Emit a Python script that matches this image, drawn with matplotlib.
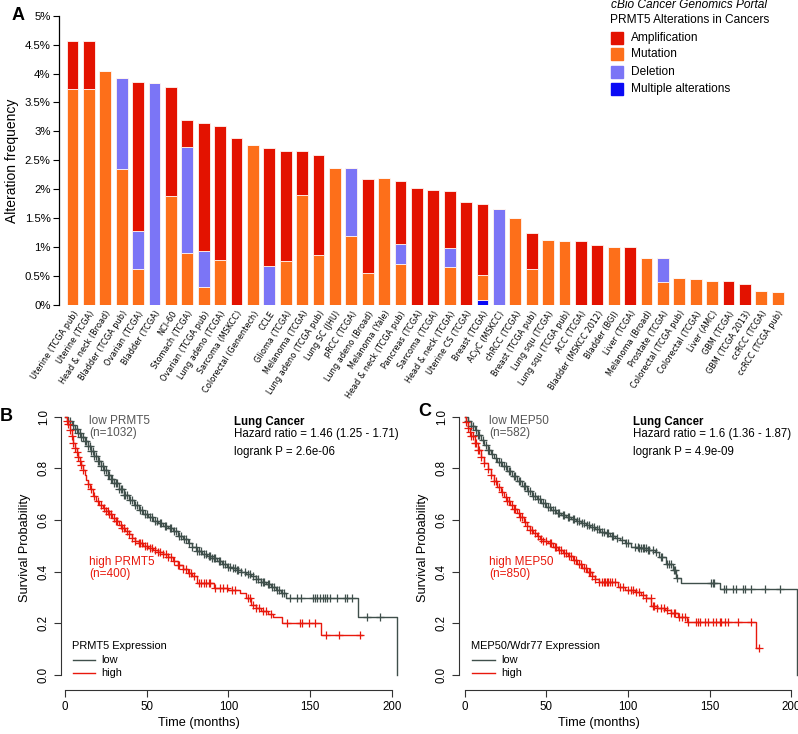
import numpy as np
import matplotlib
matplotlib.use("Agg")
import matplotlib.pyplot as plt
from matplotlib.patches import Rectangle

plt.rcParams['font.family'] = ['Liberation Sans', 'DejaVu Sans']

W, H = 798, 734

# ---------------- panel A data ----------------
cats = ["Uterine (TCGA pub)", "Uterine (TCGA)", "Head & neck (Broad)", "Bladder (TCGA pub)",
        "Ovarian (TCGA)", "Bladder (TCGA)", "NCI-60", "Stomach (TCGA)", "Ovarian (TCGA pub)",
        "Lung adeno (TCGA)", "Sarcoma (MSKCC)", "Colorectal (Genentech)", "CCLE", "Glioma (TCGA)",
        "Melanoma (TCGA)", "Lung adeno (TCGA pub)", "Lung SC (JHU)", "pRCC (TCGA)",
        "Lung adeno (Broad)", "Melanoma (Yale)", "Head & neck (TCGA pub)", "Pancreas (TCGA)",
        "Sarcoma (TCGA)", "Head & neck (TCGA)", "Uterine CS (TCGA)", "Breast (TCGA)",
        "ACyC (MSKCC)", "chRCC (TCGA)", "Breast (TCGA pub)", "Lung squ (TCGA)",
        "Lung squ (TCGA pub)", "ACC (TCGA)", "Bladder (MSKCC 2012)", "Bladder (BGI)",
        "Liver (TCGA)", "Melanoma (Broad)", "Prostate (TCGA)", "Colorectal (TCGA pub)",
        "Colorectal (TCGA)", "Liver (AMC)", "GBM (TCGA)", "GBM (TCGA 2013)", "ccRCC (TCGA)",
        "ccRCC (TCGA pub)"]
amp = [0.83, 0.83, 0, 0, 2.58, 0, 1.88, 0.47, 2.21, 2.32, 2.89, 0, 2.03, 1.90, 0.76, 1.74,
       0, 0, 1.63, 0, 1.08, 2.02, 1.98, 0.98, 1.78, 1.24, 0, 0, 0.62, 0, 0, 1.11, 1.03, 0,
       1.00, 0, 0, 0, 0, 0, 0.41, 0.36, 0, 0]
mut = [3.74, 3.74, 4.04, 2.35, 0.63, 0, 1.88, 0.90, 0.31, 0.77, 0, 2.76, 0, 0.76, 1.90, 0.86,
       2.37, 1.19, 0.55, 2.19, 0.71, 0, 0, 0.66, 0, 0.42, 0, 1.50, 0.62, 1.12, 1.11, 0, 0,
       1.00, 0, 0.82, 0.40, 0.46, 0.45, 0.41, 0, 0, 0.24, 0.23]
dele = [0, 0, 0, 1.57, 0.65, 3.83, 0, 1.83, 0.63, 0, 0, 0, 0.68, 0, 0, 0, 0, 1.18, 0, 0,
        0.35, 0, 0, 0.33, 0, 0, 1.66, 0, 0, 0, 0, 0, 0, 0, 0, 0, 0.42, 0, 0, 0, 0, 0, 0, 0]
multi = [0] * 25 + [0.09] + [0] * 18

col_amp, col_mut, col_del, col_multi = '#e31200', '#fd6f1a', '#7b75f6', '#0a0af5'

# ---------------- panel B / C data (Kaplan-Meier) ----------------
b_low_t = [0, 2, 4, 6, 8, 10, 12, 14, 16, 18, 20, 22, 24, 26, 28, 30, 33, 36, 39, 42, 45, 48,
           51, 54, 57, 60, 63, 66, 69, 72, 75, 78, 81, 84, 87, 90, 93, 96, 99, 102, 105, 108,
           111, 114, 117, 120, 123, 126, 129, 132, 135.5, 179.4, 203.5]
b_low_s = [1.0, 0.985, 0.968, 0.952, 0.937, 0.922, 0.905, 0.886, 0.866, 0.848, 0.828, 0.81,
           0.793, 0.776, 0.76, 0.744, 0.72, 0.698, 0.678, 0.658, 0.64, 0.624, 0.61, 0.598,
           0.588, 0.578, 0.568, 0.556, 0.54, 0.525, 0.51, 0.494, 0.48, 0.47, 0.462, 0.452,
           0.44, 0.43, 0.42, 0.413, 0.406, 0.4, 0.392, 0.382, 0.372, 0.362, 0.352, 0.342,
           0.33, 0.316, 0.297, 0.223, 0.0]
b_low_c = [3, 5, 6, 7, 8, 9, 10, 11, 12, 13, 14, 15, 16, 17, 18, 19, 20, 21, 22, 23, 24, 25,
           26, 27, 28, 29, 30, 31, 32, 33, 34, 35, 36, 37, 38, 40, 41, 43, 44, 46, 47, 49, 50,
           52, 53, 55, 56, 58, 59, 61, 62, 64, 65, 67, 68, 70, 71, 73, 74, 76, 78, 80, 81, 82,
           83, 85, 86, 88, 89, 90, 91, 92, 94, 95, 97, 98, 100, 101, 103, 104, 105, 106, 108,
           110, 112, 113, 115, 117, 118, 120, 121, 122, 124, 125, 127, 128, 130, 131, 133, 134,
           137.8, 142.2, 144.5, 152, 153, 154, 156, 158.2, 159.2, 160.6, 162.2, 166.3, 171.4,
           172.5, 175.5, 184.7, 192.9]
b_high_t = [0, 1, 2, 3, 4, 5, 6, 7, 8, 9, 10, 11, 12, 13, 14, 15, 17, 19, 21, 23, 25, 27, 29,
            31, 33, 35, 37, 39, 41, 43, 45, 48, 51, 54, 57, 60, 63, 66, 69, 72, 75, 78, 80.6,
            91, 100, 107, 111, 114, 117, 120, 124, 127.4, 132.6, 156.7, 182]
b_high_s = [1.0, 0.985, 0.972, 0.95, 0.925, 0.9, 0.88, 0.862, 0.845, 0.83, 0.812, 0.795,
            0.775, 0.755, 0.738, 0.72, 0.695, 0.675, 0.66, 0.645, 0.635, 0.622, 0.608, 0.595,
            0.582, 0.57, 0.558, 0.545, 0.532, 0.52, 0.51, 0.5, 0.492, 0.485, 0.475, 0.468,
            0.455, 0.44, 0.425, 0.41, 0.395, 0.385, 0.356, 0.335, 0.33, 0.317, 0.298, 0.272,
            0.26, 0.248, 0.238, 0.226, 0.2, 0.155, 0.155]
b_high_c = [1, 2, 3, 4, 5, 6, 7, 8, 9, 10, 11, 14, 16, 18, 20, 22, 24, 25, 26, 27, 28, 30, 31,
            32, 34, 35, 36, 38, 39, 41, 43, 45, 46, 47, 49, 50, 52, 53, 55, 57, 58, 60, 62, 63,
            65, 67, 69, 70, 72, 74, 76, 77, 79, 82, 83, 85, 86, 88, 89, 92, 95, 97, 99, 102,
            104, 112, 113, 115, 117, 119, 121, 123, 126, 135.7, 143.9, 144.9, 149.6, 153,
            159.8, 167.8, 180.6]

c_low_t = [0, 2, 4, 6, 8, 10, 12, 14, 16, 18, 20, 23, 26, 29, 32, 35, 38, 41, 44, 47, 50, 53,
           56, 59, 62, 65, 68, 71, 74, 77, 80, 83, 86, 89, 92, 95, 98, 102, 107, 112, 116.3,
           119, 123, 127.5, 129.6, 132.6, 156.1, 203.5]
c_low_s = [1.0, 0.985, 0.965, 0.948, 0.93, 0.91, 0.89, 0.872, 0.855, 0.84, 0.826, 0.808, 0.79,
           0.772, 0.752, 0.732, 0.712, 0.695, 0.68, 0.665, 0.65, 0.638, 0.628, 0.62, 0.612,
           0.605, 0.598, 0.59, 0.582, 0.575, 0.565, 0.555, 0.548, 0.54, 0.532, 0.522, 0.51,
           0.497, 0.49, 0.485, 0.477, 0.455, 0.43, 0.407, 0.374, 0.357, 0.332, 0.0]
c_low_c = [2, 4, 5, 7, 8, 9, 11, 13, 14, 15, 17, 19, 21, 22, 24, 25, 27, 28, 30, 31, 33, 34,
           36, 37, 39, 40, 42, 43, 45, 46, 48, 49, 51, 52, 54, 55, 57, 58, 60, 61, 63, 64, 66,
           67, 69, 70, 72, 73, 75, 76, 78, 79, 81, 82, 84, 85, 87, 88, 90, 91, 93, 96, 99, 100,
           104, 106, 107, 108, 109, 110, 111, 112, 113, 115, 117, 120, 121, 124, 125, 126, 128,
           129, 130, 150.8, 151.8, 152.8, 158.8, 160.2, 164.3, 166.3, 170.4, 171.4, 175.5,
           183.7, 192.9]
c_high_t = [0, 1, 2, 3, 4, 6, 8, 10, 12, 14, 16, 18, 20, 22, 24, 26, 28, 30, 32, 34, 36, 38,
            40, 42, 44, 46, 48, 51, 54, 57, 60, 63, 66, 69, 72, 75, 78, 80, 82, 94, 98, 104,
            108, 111, 114.3, 118, 122.5, 126, 130.6, 135.8, 178.6, 180]
c_high_s = [1.0, 0.98, 0.955, 0.94, 0.925, 0.9, 0.872, 0.845, 0.82, 0.796, 0.774, 0.752,
            0.729, 0.71, 0.691, 0.675, 0.658, 0.642, 0.626, 0.61, 0.594, 0.578, 0.562, 0.548,
            0.537, 0.528, 0.52, 0.51, 0.497, 0.485, 0.472, 0.46, 0.445, 0.43, 0.415, 0.4,
            0.385, 0.372, 0.36, 0.342, 0.33, 0.323, 0.31, 0.297, 0.267, 0.258, 0.252, 0.24,
            0.226, 0.206, 0.103, 0.103]
c_high_c = [1, 2, 3, 4, 5, 6, 7, 8, 9, 10, 12, 14, 16, 18, 19, 21, 23, 25, 26, 27, 29, 30, 31,
            33, 34, 35, 37, 38, 40, 41, 43, 45, 47, 48, 50, 52, 53, 55, 56, 58, 59, 61, 62, 64,
            65, 67, 68, 70, 71, 73, 74, 76, 77, 78, 80, 82, 84, 85, 86, 87, 88, 89, 90, 92, 95,
            97, 100, 102, 103, 105, 107, 109, 111, 114, 115, 116, 118, 120, 122, 124, 126, 128,
            129, 131, 133, 135, 136.7, 141.8, 142.8, 143.9, 146.9, 148.9, 152, 154, 156.1,
            157.1, 159.2, 161.2, 167.3, 175.5, 180]

col_low, col_high = '#3f4f4b', '#e8180c'


def px_axes(fig, l, t, r, b):
    return fig.add_axes([l / W, 1 - b / H, (r - l) / W, (b - t) / H])


fig = plt.figure(figsize=(W / 100, H / 100), dpi=100)

# ---------------- panel A ----------------
ax = px_axes(fig, 59, 15.7, 785.8, 305)
x = np.arange(len(cats))
bottom = np.zeros(len(cats))
for vals, col in [(multi, col_multi), (mut, col_mut), (dele, col_del), (amp, col_amp)]:
    v = np.array(vals)
    ax.bar(x, v, bottom=bottom, width=0.72, color=col, edgecolor='#fff4f0', linewidth=0.6)
    bottom += v
ax.set_xlim(-0.82, 43.5)
ax.set_ylim(0, 5)
ax.set_yticks(np.arange(0, 5.01, 0.5))
ax.set_yticklabels(['0%', '0.5%', '1%', '1.5%', '2%', '2.5%', '3%', '3.5%', '4%', '4.5%', '5%'],
                   fontsize=8.2)
ax.set_xticks(x)
ax.set_xticklabels(cats, rotation=57, ha='right', rotation_mode='anchor', fontsize=5.9,
                   family='DejaVu Sans')
ax.tick_params(axis='x', length=0, pad=3)
ax.tick_params(axis='y', length=4, width=0.8, pad=2)
for s in ['top', 'right', 'bottom']:
    ax.spines[s].set_visible(False)
ax.spines['left'].set_linewidth(0.9)
ax.set_ylabel('Alteration frequency', fontsize=10, labelpad=4)

fig.text(12 / W, 1 - 15 / H, 'A', fontsize=13, fontweight='bold', va='center')

# legend of panel A
fig.text(611 / W, 1 - 5 / H, 'cBio Cancer Genomics Portal', fontsize=8.6, style='italic', va='center')
fig.text(610.5 / W, 1 - 20 / H, 'PRMT5 Alterations in Cancers', fontsize=8.6, va='center')
for yy, col, lab in [(37.7, col_amp, 'Amplification'), (54.3, col_mut, 'Mutation'),
                     (71.7, col_del, 'Deletion'), (89, col_multi, 'Multiple alterations')]:
    fig.patches.append(Rectangle(((611) / W, 1 - (yy + 6) / H), 12 / W, 12 / H,
                                 transform=fig.transFigure, color=col))
    fig.text(631 / W, 1 - yy / H, lab, fontsize=8.6, va='center')


# ---------------- panels B / C ----------------
def km_panel(l, x0, xl, gene, exprlab, n_low, n_high, hr, pval, lt, ls, lc, ht, hs, hc):
    # x0: pixel of time 0, 1.6333 px per month
    r = x0 + 205 * 1.6333
    a = px_axes(fig, l, 406.4, r, 690)
    a.set_xlim(xl, 205)
    a.set_ylim(-0.058, 1.04)
    for tt, ss, cc, col in [(lt, ls, lc, col_low), (ht, hs, hc, col_high)]:
        tt = np.array(tt)
        ss = np.array(ss)
        a.step(tt, ss, where='post', color=col, lw=1.0, clip_on=False)
        cc = np.array(cc)
        idx = np.searchsorted(tt, cc, side='right') - 1
        a.plot(cc, ss[idx], ls='none', marker='+', ms=6, mew=0.9, color=col, clip_on=False)
    for s in ['top', 'right']:
        a.spines[s].set_visible(False)
    a.spines['left'].set_bounds(0, 1)
    a.spines['bottom'].set_bounds(0, 200)
    for s in ['left', 'bottom']:
        a.spines[s].set_color('#333333')
        a.spines[s].set_linewidth(0.8)
    a.set_xticks([0, 50, 100, 150, 200])
    a.set_yticks([0, 0.2, 0.4, 0.6, 0.8, 1.0])
    a.set_yticklabels(['0.0', '0.2', '0.4', '0.6', '0.8', '1.0'], rotation=90, va='center')
    a.tick_params(axis='both', length=5, width=0.8, color='#333333', labelsize=8.3, pad=3)
    a.set_ylabel('Survival Probability', fontsize=9.2, labelpad=5)

    def ftx(px, py, s, **kw):
        fig.text(px / W, 1 - py / H, s, va='center', **kw)

    ftx(x0 + 134, 723, 'Time (months)', fontsize=9.2, ha='center')
    ftx(x0 + 24.3, 420.7, 'low ' + gene, fontsize=8.5, color='#555555')
    ftx(x0 + 24.3, 433.3, '(n=%d)' % n_low, fontsize=8.5, color='#555555')
    ftx(x0 + 24.3, 561.7, 'high ' + gene, fontsize=8.5, color=col_high)
    ftx(x0 + 24.3, 574.3, '(n=%d)' % n_high, fontsize=8.5, color=col_high)
    ftx(x0 + 168.5, 421.7, 'Lung Cancer', fontsize=8.3, fontweight='bold')
    ftx(x0 + 168.5, 434.3, 'Hazard ratio = ' + hr, fontsize=8.3)
    ftx(x0 + 168.5, 451.7, 'logrank P = ' + pval, fontsize=8.3)
    ftx(x0 + 6.7, 646, exprlab, fontsize=7.9)
    for yy, col, lab in [(660, col_low, 'low'), (673.3, col_high, 'high')]:
        fig.add_artist(plt.Line2D([(x0 + 7.7) / W, (x0 + 30) / W], [1 - yy / H, 1 - yy / H],
                                  color=col, lw=1.0))
        ftx(x0 + 36.7, yy, lab, fontsize=7.9)


km_panel(61, 65, -2.5, 'PRMT5', 'PRMT5 Expression', 1032, 400, '1.46 (1.25 - 1.71)',
         '2.6e-06', b_low_t, b_low_s, b_low_c, b_high_t, b_high_s, b_high_c)
km_panel(459, 464.7, -3.5, 'MEP50', 'MEP50/Wdr77 Expression', 582, 850, '1.6 (1.36 - 1.87)',
         '4.9e-09', c_low_t, c_low_s, c_low_c, c_high_t, c_high_s, c_high_c)

fig.text(6 / W, 1 - 416 / H, 'B', fontsize=13, fontweight='bold', ha='center', va='center')
fig.text(425 / W, 1 - 412 / H, 'C', fontsize=13, fontweight='bold', ha='center', va='center')

fig.savefig('out.png', dpi=100)
